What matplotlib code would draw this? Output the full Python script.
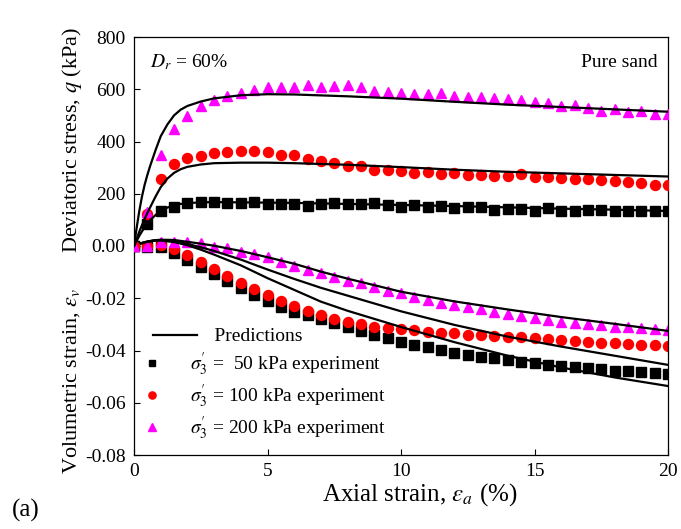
import numpy as np
import matplotlib
matplotlib.use("Agg")
import matplotlib.pyplot as plt
from matplotlib.legend_handler import HandlerLine2DCompound
from matplotlib.ticker import FixedLocator, FuncFormatter

plt.rcParams["font.family"] = ["Liberation Serif", "DejaVu Serif"]
plt.rcParams["mathtext.fontset"] = "stix"
plt.rcParams["axes.unicode_minus"] = False

# ---- experimental data (axial strain in %) ----
strain_exp = [0.0, 0.5, 1.0, 1.5, 2.0, 2.5, 3.0, 3.5, 4.0, 4.5,
              5.0, 5.5, 6.0, 6.5, 7.0, 7.5, 8.0, 8.5, 9.0, 9.5,
              10.0, 10.5, 11.0, 11.5, 12.0, 12.5, 13.0, 13.5, 14.0, 14.5,
              15.0, 15.5, 16.0, 16.5, 17.0, 17.5, 18.0, 18.5, 19.0, 19.5,
              20.0]

q_exp_50 = [0, 83, 134, 151, 163, 168, 170, 163, 166, 170,
            161, 161, 162, 154, 160, 163, 162, 162, 163, 157,
            151, 157, 151, 153, 147, 148, 151, 138, 140, 140,
            135, 144, 135, 135, 138, 138, 135, 135, 135, 135,
            135]
q_exp_100 = [0, 123, 255, 313, 336, 346, 357, 361, 362, 363,
             361, 350, 347, 333, 327, 317, 308, 306, 291, 291,
             288, 281, 285, 276, 281, 271, 271, 268, 268, 275,
             265, 263, 262, 257, 258, 253, 250, 246, 240, 234,
             234]
q_exp_200 = [0, 131, 349, 447, 498, 534, 559, 575, 587, 598,
             608, 610, 608, 617, 609, 614, 617, 610, 595, 590,
             587, 582, 580, 587, 576, 572, 572, 566, 562, 557,
             553, 547, 536, 540, 528, 518, 524, 512, 516, 504,
             504]

ev_exp_50 = [0.0, -0.0003, -0.0005, -0.0028, -0.0054, -0.0082, -0.0107, -0.0133, -0.0162, -0.0188,
             -0.0209, -0.0232, -0.0251, -0.0264, -0.0281, -0.0296, -0.0311, -0.0324, -0.0341, -0.0353,
             -0.0366, -0.0379, -0.0388, -0.0398, -0.0408, -0.0417, -0.0426, -0.0430, -0.0436, -0.0443,
             -0.0449, -0.0455, -0.0459, -0.0464, -0.0468, -0.0472, -0.0477, -0.0480, -0.0483, -0.0487,
             -0.0491]
ev_exp_100 = [0.0, 0.0, 0.0004, -0.0013, -0.0034, -0.0063, -0.0088, -0.0114, -0.0140, -0.0166,
              -0.0188, -0.0209, -0.0231, -0.0248, -0.0265, -0.0281, -0.0290, -0.0300, -0.0309, -0.0315,
              -0.0319, -0.0322, -0.0328, -0.0334, -0.0334, -0.0341, -0.0341, -0.0345, -0.0347, -0.0350,
              -0.0353, -0.0357, -0.0360, -0.0362, -0.0366, -0.0370, -0.0373, -0.0375, -0.0379, -0.0380,
              -0.0383]
ev_exp_200 = [0.0, 0.0, 0.0016, 0.0016, 0.0016, 0.0010, -0.0003, -0.0009, -0.0022, -0.0031,
              -0.0043, -0.0060, -0.0075, -0.0092, -0.0105, -0.0120, -0.0133, -0.0143, -0.0158, -0.0171,
              -0.0181, -0.0194, -0.0207, -0.0217, -0.0226, -0.0235, -0.0243, -0.0251, -0.0260, -0.0267,
              -0.0277, -0.0283, -0.0290, -0.0296, -0.0300, -0.0302, -0.0309, -0.0311, -0.0315, -0.0319,
              -0.0322]

# ---- model predictions ----
strain_q_pred = [0, 0.1, 0.2, 0.3, 0.4, 0.5, 0.6, 0.8, 1.0, 1.25, 1.5, 1.75, 2, 2.5, 3,
                 4, 5, 6, 8, 10, 12, 14, 16, 18, 20]
q_pred_50 = [0, 20, 39, 56, 72, 86, 98, 118, 134, 147, 156, 161, 164, 167, 168,
             167, 166, 165, 161, 157, 153, 148, 143, 139, 134]
q_pred_100 = [0, 28, 55, 80, 104, 126, 147, 188, 225, 258, 280, 294, 303, 312, 317,
              319, 319, 317, 311, 302, 292, 284, 278, 272, 266]
q_pred_200 = [0, 70, 135, 190, 235, 272, 305, 365, 420, 465, 500, 522, 536, 553, 565,
              577, 581, 580, 573, 564, 552, 541, 532, 523, 514]

strain_ev_pred = [0, 0.25, 0.5, 0.75, 1, 1.5, 2, 2.5, 3, 4, 5, 6, 7, 8, 10, 12, 14, 16, 18, 20]
ev_pred_50 = [0, 0.0010, 0.0016, 0.0020, 0.0021, 0.0015, 0.0003, -0.0014, -0.0033, -0.0074,
              -0.0123, -0.0168, -0.0213, -0.0248, -0.0310, -0.0368, -0.0420, -0.0465, -0.0503, -0.0536]
ev_pred_100 = [0, 0.0010, 0.0017, 0.0021, 0.0023, 0.0019, 0.0008, -0.0005, -0.0019, -0.0052,
               -0.0090, -0.0126, -0.0160, -0.0190, -0.0250, -0.0302, -0.0347, -0.0385, -0.0420, -0.0455]
ev_pred_200 = [0, 0.0010, 0.0017, 0.0022, 0.0024, 0.0023, 0.0016, 0.0009, 0.0001, -0.0019,
               -0.0043, -0.0068, -0.0098, -0.0125, -0.0175, -0.0212, -0.0243, -0.0272, -0.0298, -0.0325]

q_ticks = [200, 400, 600, 800]
ev_ticks = [-0.08, -0.06, -0.04, -0.02, 0.00]
x_ticks = [0, 5, 10, 15, 20]

MAGENTA = "#FF00FF"
RED = "#FF0000"
BLACK = "#000000"


class LeftMarkerHandler(HandlerLine2DCompound):
    """Legend key with the marker placed at the left end of the key box."""
    def __init__(self, marker_x=2.2, line_span=None, **kw):
        super().__init__(**kw)
        self.marker_x = marker_x
        self.line_span = line_span

    def get_xdata(self, legend, xdescent, ydescent, width, height, fontsize):
        if self.line_span is not None:
            xdata = np.array([-xdescent + self.line_span[0], -xdescent + self.line_span[1]])
        else:
            xdata = np.array([-xdescent, -xdescent + width])
        return xdata, np.array([-xdescent + self.marker_x])


fig = plt.figure(figsize=(6.81, 5.29), dpi=100)
rect = [134 / 681, 1 - 455 / 529, (668 - 134) / 681, (455 - 37) / 529]

# volumetric strain axes (lower half of the frame)
ax = fig.add_axes(rect)
# deviatoric stress axes overlaid on the same frame (upper half)
axq = fig.add_axes(rect, sharex=ax)
axq.patch.set_visible(False)
for s in axq.spines.values():
    s.set_visible(False)

ax.set_xlim(0, 20)
ax.set_ylim(-0.08, 0.08)
axq.set_ylim(-800, 800)

ax.xaxis.set_major_locator(FixedLocator(x_ticks))
ax.yaxis.set_major_locator(FixedLocator(ev_ticks))
ax.yaxis.set_major_formatter(FuncFormatter(lambda v, p: f"{v:.2f}"))
axq.yaxis.set_major_locator(FixedLocator(q_ticks))
axq.yaxis.set_major_formatter(FuncFormatter(lambda v, p: f"{v:.0f}"))

for a in (ax, axq):
    a.tick_params(direction="in", length=4, width=0.8, labelsize=14, pad=6)
axq.tick_params(axis="x", bottom=False, labelbottom=False)
for s in ax.spines.values():
    s.set_linewidth(0.9)

ms = {"s": 6.5, "o": 7.2, "^": 7.5}

# experiments
ax.plot(strain_exp, ev_exp_50, ls="none", marker="s", ms=ms["s"], color=BLACK, zorder=2)
ax.plot(strain_exp, ev_exp_100, ls="none", marker="o", ms=ms["o"], color=RED, zorder=2)
ax.plot(strain_exp, ev_exp_200, ls="none", marker="^", ms=ms["^"], color=MAGENTA, zorder=2)
h50, = axq.plot(strain_exp, q_exp_50, ls="none", marker="s", ms=ms["s"], color=BLACK, zorder=2)
h100, = axq.plot(strain_exp, q_exp_100, ls="none", marker="o", ms=ms["o"], color=RED, zorder=2)
h200, = axq.plot(strain_exp, q_exp_200, ls="none", marker="^", ms=ms["^"], color=MAGENTA, zorder=2)

# predictions
lw = 1.6
for qp in (q_pred_50, q_pred_100, q_pred_200):
    hp, = axq.plot(strain_q_pred, qp, color=BLACK, lw=lw, zorder=3)
for evp in (ev_pred_50, ev_pred_100, ev_pred_200):
    ax.plot(strain_ev_pred, evp, color=BLACK, lw=lw, zorder=3)

axq.text(0.030, 0.928, r"$D_r$ = 60%", transform=axq.transAxes, fontsize=14,
         ha="left", va="baseline")
axq.text(0.981, 0.928, "Pure sand", transform=axq.transAxes, fontsize=14,
         ha="right", va="baseline")

sig = r"$\sigma_3^{\prime}$"
labels = ["     Predictions",
          sig + " =  50 kPa experiment",
          sig + " = 100 kPa experiment",
          sig + " = 200 kPa experiment"]
leg = axq.legend([hp, h50, h100, h200], labels, loc="lower left",
                 bbox_to_anchor=(0.028, 0.03), frameon=False, fontsize=14,
                 handlelength=1.7, handletextpad=0.4, borderpad=0, borderaxespad=0,
                 labelspacing=0.25, markerscale=0.72,
                 handler_map={hp: LeftMarkerHandler(line_span=(2.9, 34.6)),
                              h50: LeftMarkerHandler(),
                              h100: LeftMarkerHandler(),
                              h200: LeftMarkerHandler()})

fig.text(72 / 681, 1 - 140 / 529, r"Deviatoric stress, $q$ (kPa)", rotation=90,
         fontsize=16, ha="center", va="center")
fig.text(72 / 681, 1 - 381 / 529, r"Volumetric strain, $\varepsilon_v$", rotation=90,
         fontsize=16, ha="center", va="center")
fig.text(420 / 681, 1 - 495 / 529, r"Axial strain, $\varepsilon_a$ (%)",
         fontsize=18, ha="center", va="center")
fig.text(12 / 681, 1 - 510 / 529, "(a)", fontsize=18, ha="left", va="center")

fig.savefig("out.png", dpi=100)
